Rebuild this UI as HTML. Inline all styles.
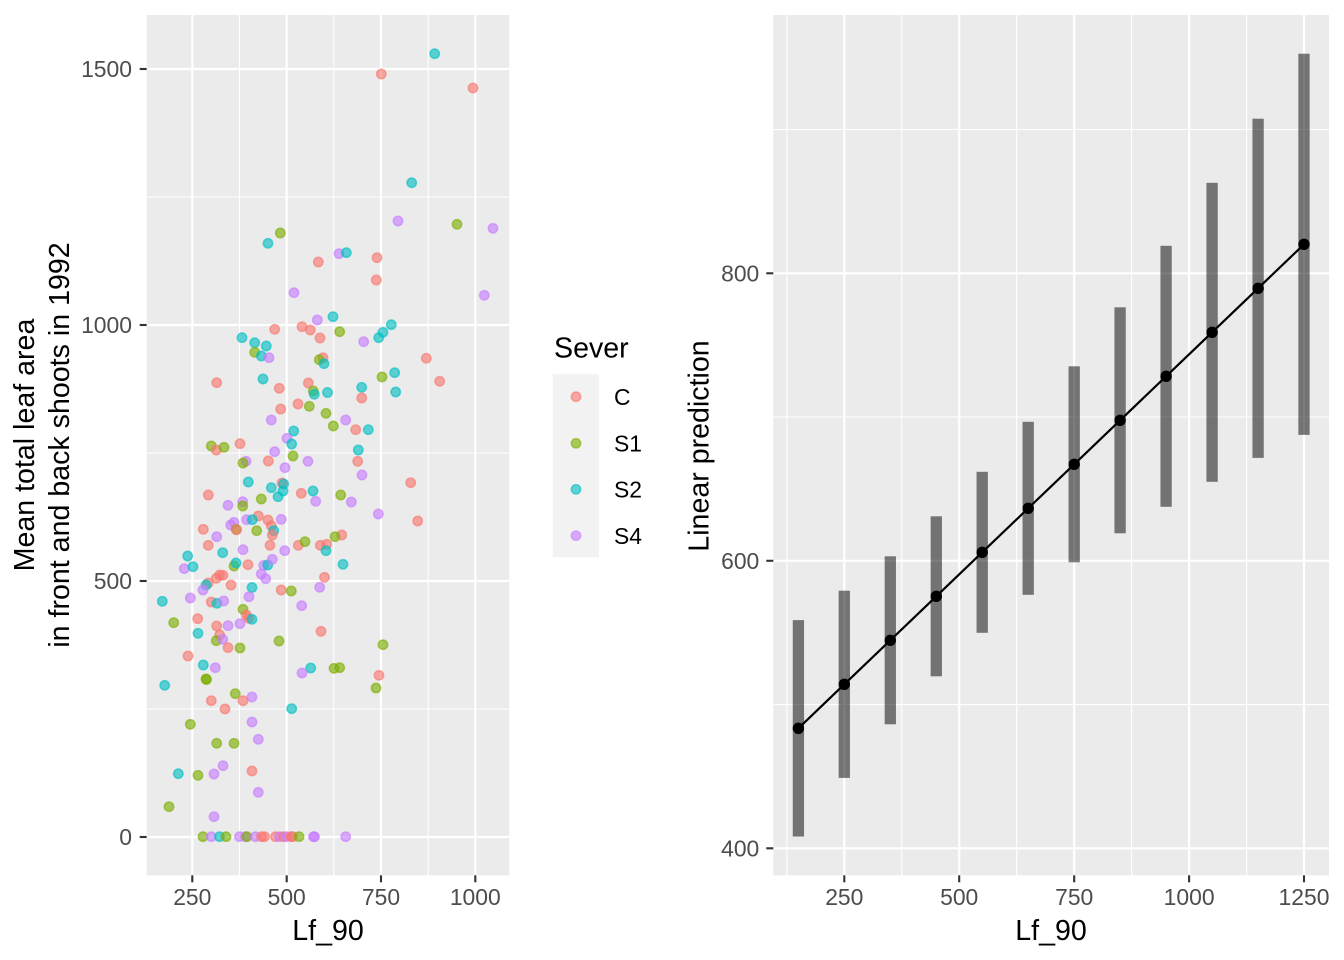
<!DOCTYPE html>
<html><head><meta charset="utf-8"><style>
html,body{margin:0;padding:0;background:#fff;}
svg{display:block;font-family:"Liberation Sans",Arial,sans-serif;}
.r{fill:#F8766D;stroke:#F8766D}
.g{fill:#7CAE00;stroke:#7CAE00}
.b{fill:#00BFC4;stroke:#00BFC4}
.p{fill:#C77CFF;stroke:#C77CFF}
.pt circle{fill-opacity:.62;stroke-opacity:.62;stroke-width:1.5;r:4.7px}
.tk{font-size:22.9px;fill:#4D4D4D}
.ti{font-size:28.6px;fill:#000}
</style></head><body>
<svg width="1344" height="960" viewBox="0 0 1344 960" xmlns="http://www.w3.org/2000/svg">
<rect width="1344" height="960" fill="#fff"/>
<!-- LEFT PANEL -->
<rect x="146.7" y="15" width="362.6" height="860.3" fill="#EBEBEB"/>
<g stroke="#fff" stroke-width="1.1">
<line x1="239.5" y1="15" x2="239.5" y2="875.3"/><line x1="333.8" y1="15" x2="333.8" y2="875.3"/><line x1="428.2" y1="15" x2="428.2" y2="875.3"/>
<line x1="146.7" y1="197" x2="509.3" y2="197"/><line x1="146.7" y1="453" x2="509.3" y2="453"/><line x1="146.7" y1="709" x2="509.3" y2="709"/>
</g>
<g stroke="#fff" stroke-width="2.2">
<line x1="192.3" y1="15" x2="192.3" y2="875.3"/><line x1="286.7" y1="15" x2="286.7" y2="875.3"/><line x1="381" y1="15" x2="381" y2="875.3"/><line x1="475.3" y1="15" x2="475.3" y2="875.3"/>
<line x1="146.7" y1="69" x2="509.3" y2="69"/><line x1="146.7" y1="325" x2="509.3" y2="325"/><line x1="146.7" y1="581" x2="509.3" y2="581"/><line x1="146.7" y1="837" x2="509.3" y2="837"/>
</g>
<g class="pt">
<circle class="b" cx="434.7" cy="53.7" r="4.7"/><circle class="r" cx="381.3" cy="74" r="4.7"/><circle class="r" cx="473" cy="88" r="4.7"/><circle class="b" cx="411.7" cy="182.7" r="4.7"/>
<circle class="p" cx="398" cy="221" r="4.7"/><circle class="g" cx="457" cy="224.3" r="4.7"/><circle class="p" cx="493" cy="228.3" r="4.7"/><circle class="g" cx="280.3" cy="233" r="4.7"/>
<circle class="b" cx="268" cy="243.3" r="4.7"/><circle class="p" cx="339" cy="253.7" r="4.7"/><circle class="b" cx="346.3" cy="252.7" r="4.7"/><circle class="r" cx="318.3" cy="262" r="4.7"/>
<circle class="r" cx="377" cy="257.7" r="4.7"/><circle class="r" cx="376.3" cy="280" r="4.7"/><circle class="p" cx="294" cy="292.7" r="4.7"/><circle class="p" cx="484.3" cy="295.3" r="4.7"/>
<circle class="p" cx="317.3" cy="320" r="4.7"/><circle class="b" cx="333" cy="316.7" r="4.7"/><circle class="r" cx="274.7" cy="329.3" r="4.7"/><circle class="r" cx="302" cy="326.7" r="4.7"/>
<circle class="r" cx="310.3" cy="330" r="4.7"/><circle class="r" cx="320" cy="338" r="4.7"/><circle class="b" cx="242" cy="337.7" r="4.7"/><circle class="b" cx="254.7" cy="342.7" r="4.7"/>
<circle class="b" cx="266.3" cy="346" r="4.7"/><circle class="g" cx="254.7" cy="352.3" r="4.7"/><circle class="b" cx="261.3" cy="356" r="4.7"/><circle class="p" cx="269" cy="357.7" r="4.7"/>
<circle class="r" cx="323" cy="357.7" r="4.7"/><circle class="g" cx="319.3" cy="359.7" r="4.7"/><circle class="b" cx="324" cy="363.7" r="4.7"/><circle class="r" cx="216.7" cy="382.7" r="4.7"/>
<circle class="b" cx="263" cy="379" r="4.7"/><circle class="r" cx="279.3" cy="388.3" r="4.7"/><circle class="r" cx="308.3" cy="383" r="4.7"/><circle class="g" cx="313.3" cy="391" r="4.7"/>
<circle class="b" cx="314.3" cy="394.3" r="4.7"/><circle class="b" cx="327.5" cy="392.5" r="4.7"/><circle class="r" cx="298" cy="404" r="4.7"/><circle class="g" cx="309.3" cy="406.3" r="4.7"/>
<circle class="g" cx="326" cy="413.3" r="4.7"/><circle class="r" cx="280.7" cy="409" r="4.7"/><circle class="p" cx="271.3" cy="420" r="4.7"/><circle class="g" cx="333.3" cy="426" r="4.7"/>
<circle class="b" cx="293.7" cy="431" r="4.7"/><circle class="p" cx="287" cy="438.3" r="4.7"/><circle class="b" cx="291.7" cy="444" r="4.7"/><circle class="g" cx="211.3" cy="446" r="4.7"/>
<circle class="r" cx="216.3" cy="450" r="4.7"/><circle class="g" cx="224" cy="447.3" r="4.7"/><circle class="r" cx="240" cy="443.7" r="4.7"/><circle class="p" cx="274.7" cy="451.7" r="4.7"/>
<circle class="g" cx="293" cy="456" r="4.7"/><circle class="p" cx="308" cy="461.3" r="4.7"/><circle class="p" cx="246" cy="461.3" r="4.7"/><circle class="g" cx="243" cy="463" r="4.7"/>
<circle class="r" cx="268.3" cy="461" r="4.7"/><circle class="p" cx="285" cy="467.7" r="4.7"/><circle class="b" cx="248.3" cy="482" r="4.7"/><circle class="r" cx="282" cy="483" r="4.7"/>
<circle class="b" cx="283.7" cy="484" r="4.7"/><circle class="b" cx="271.3" cy="487.7" r="4.7"/><circle class="b" cx="283" cy="491" r="4.7"/><circle class="b" cx="278" cy="496.7" r="4.7"/>
<circle class="r" cx="301.3" cy="493.3" r="4.7"/><circle class="b" cx="313" cy="491" r="4.7"/><circle class="p" cx="315.7" cy="501.3" r="4.7"/><circle class="r" cx="208.3" cy="495" r="4.7"/>
<circle class="p" cx="228" cy="505.3" r="4.7"/><circle class="p" cx="242.7" cy="501.7" r="4.7"/><circle class="g" cx="242.7" cy="506" r="4.7"/><circle class="g" cx="261.3" cy="499" r="4.7"/>
<circle class="r" cx="258.3" cy="516" r="4.7"/><circle class="p" cx="246.7" cy="519.7" r="4.7"/><circle class="b" cx="252.3" cy="519.7" r="4.7"/><circle class="r" cx="268" cy="520" r="4.7"/>
<circle class="r" cx="271.3" cy="525.7" r="4.7"/><circle class="p" cx="281.3" cy="519.3" r="4.7"/><circle class="p" cx="230.7" cy="525" r="4.7"/><circle class="p" cx="234" cy="522.3" r="4.7"/>
<circle class="g" cx="236.3" cy="529.3" r="4.7"/><circle class="r" cx="236.5" cy="529.8" r="4.7"/><circle class="g" cx="256.7" cy="530.7" r="4.7"/><circle class="b" cx="273.7" cy="530.7" r="4.7"/>
<circle class="r" cx="272.3" cy="535" r="4.7"/><circle class="r" cx="203.3" cy="529.3" r="4.7"/><circle class="p" cx="216.7" cy="536.7" r="4.7"/><circle class="r" cx="208.3" cy="545.3" r="4.7"/>
<circle class="b" cx="222.7" cy="552.7" r="4.7"/><circle class="p" cx="243" cy="549.7" r="4.7"/><circle class="r" cx="270" cy="545.3" r="4.7"/><circle class="p" cx="284.7" cy="550.7" r="4.7"/>
<circle class="r" cx="298.3" cy="545.3" r="4.7"/><circle class="g" cx="305" cy="541.7" r="4.7"/><circle class="r" cx="320.3" cy="545.3" r="4.7"/><circle class="r" cx="326.7" cy="544.3" r="4.7"/>
<circle class="r" cx="341.7" cy="535" r="4.7"/><circle class="g" cx="335" cy="536.7" r="4.7"/><circle class="b" cx="326" cy="550.7" r="4.7"/><circle class="b" cx="187.7" cy="556" r="4.7"/>
<circle class="p" cx="184.3" cy="568.7" r="4.7"/><circle class="b" cx="193" cy="566.7" r="4.7"/><circle class="g" cx="234" cy="566" r="4.7"/><circle class="b" cx="236" cy="563" r="4.7"/>
<circle class="r" cx="248" cy="564.7" r="4.7"/><circle class="p" cx="263.7" cy="565.3" r="4.7"/><circle class="b" cx="267.7" cy="565" r="4.7"/><circle class="p" cx="272.3" cy="559.3" r="4.7"/>
<circle class="p" cx="261.3" cy="574" r="4.7"/><circle class="p" cx="265.7" cy="578.7" r="4.7"/><circle class="r" cx="208.3" cy="583" r="4.7"/><circle class="r" cx="216.3" cy="578.3" r="4.7"/>
<circle class="r" cx="219.7" cy="575" r="4.7"/><circle class="r" cx="223" cy="575.3" r="4.7"/><circle class="b" cx="206" cy="585" r="4.7"/><circle class="p" cx="203" cy="590" r="4.7"/>
<circle class="r" cx="231" cy="585" r="4.7"/><circle class="b" cx="252" cy="587.5" r="4.7"/><circle class="r" cx="281.2" cy="590" r="4.7"/><circle class="g" cx="291.3" cy="591" r="4.7"/>
<circle class="p" cx="319.7" cy="587.3" r="4.7"/><circle class="r" cx="324.5" cy="577.3" r="4.7"/>
<circle class="p" cx="363.7" cy="341.7" r="4.7"/><circle class="g" cx="339.7" cy="331.7" r="4.7"/><circle class="b" cx="391.3" cy="324.7" r="4.7"/><circle class="b" cx="383" cy="332.3" r="4.7"/>
<circle class="b" cx="378.7" cy="337.7" r="4.7"/><circle class="r" cx="426.3" cy="358.3" r="4.7"/><circle class="r" cx="439.7" cy="381.3" r="4.7"/><circle class="b" cx="394.7" cy="372.7" r="4.7"/>
<circle class="g" cx="382" cy="377" r="4.7"/><circle class="b" cx="361.7" cy="387.3" r="4.7"/><circle class="b" cx="395.7" cy="392" r="4.7"/><circle class="r" cx="361.7" cy="398" r="4.7"/>
<circle class="p" cx="345.7" cy="420" r="4.7"/><circle class="r" cx="355.7" cy="429.7" r="4.7"/><circle class="b" cx="368.3" cy="429.7" r="4.7"/><circle class="b" cx="358.3" cy="450" r="4.7"/>
<circle class="r" cx="357.7" cy="461.3" r="4.7"/><circle class="p" cx="362" cy="475" r="4.7"/><circle class="r" cx="410.7" cy="482.7" r="4.7"/><circle class="g" cx="340.7" cy="495" r="4.7"/>
<circle class="p" cx="351.3" cy="502" r="4.7"/><circle class="p" cx="378.3" cy="514" r="4.7"/><circle class="r" cx="417.7" cy="521" r="4.7"/><circle class="b" cx="343" cy="564.3" r="4.7"/>
<circle class="b" cx="162.3" cy="601.3" r="4.7"/><circle class="p" cx="190.3" cy="598" r="4.7"/><circle class="r" cx="211.3" cy="602" r="4.7"/><circle class="b" cx="217" cy="603.3" r="4.7"/>
<circle class="p" cx="223.7" cy="601" r="4.7"/><circle class="p" cx="249" cy="596.7" r="4.7"/><circle class="p" cx="301.7" cy="605.7" r="4.7"/><circle class="g" cx="173.7" cy="622.7" r="4.7"/>
<circle class="r" cx="197.7" cy="618.7" r="4.7"/><circle class="b" cx="198" cy="633.3" r="4.7"/><circle class="r" cx="216.7" cy="626" r="4.7"/><circle class="p" cx="228" cy="625.7" r="4.7"/>
<circle class="p" cx="240" cy="623.7" r="4.7"/><circle class="g" cx="243" cy="609.3" r="4.7"/><circle class="r" cx="246.3" cy="615" r="4.7"/><circle class="r" cx="248.7" cy="618.3" r="4.7"/>
<circle class="b" cx="252" cy="619.3" r="4.7"/><circle class="r" cx="219.7" cy="635" r="4.7"/><circle class="g" cx="216.3" cy="640.7" r="4.7"/><circle class="p" cx="222.7" cy="639.3" r="4.7"/>
<circle class="r" cx="228" cy="647.7" r="4.7"/><circle class="g" cx="240" cy="648" r="4.7"/><circle class="g" cx="279" cy="641" r="4.7"/><circle class="r" cx="321" cy="631.3" r="4.7"/>
<circle class="r" cx="188" cy="656" r="4.7"/><circle class="b" cx="203.3" cy="665" r="4.7"/><circle class="p" cx="215.3" cy="667.7" r="4.7"/><circle class="g" cx="206" cy="679" r="4.7"/>
<circle class="g" cx="206.5" cy="679.5" r="4.7"/><circle class="b" cx="164.7" cy="685.3" r="4.7"/><circle class="b" cx="310.7" cy="668" r="4.7"/><circle class="p" cx="302" cy="673" r="4.7"/>
<circle class="g" cx="334" cy="668.3" r="4.7"/><circle class="g" cx="339.7" cy="667.7" r="4.7"/><circle class="g" cx="235.3" cy="693.7" r="4.7"/><circle class="p" cx="252" cy="697" r="4.7"/>
<circle class="r" cx="211.3" cy="700.7" r="4.7"/><circle class="r" cx="243" cy="700.7" r="4.7"/><circle class="r" cx="225" cy="709" r="4.7"/><circle class="b" cx="291.7" cy="708.7" r="4.7"/>
<circle class="g" cx="190.3" cy="724.3" r="4.7"/><circle class="p" cx="252" cy="722" r="4.7"/><circle class="p" cx="258.3" cy="739.3" r="4.7"/><circle class="g" cx="216.7" cy="743.3" r="4.7"/>
<circle class="g" cx="234" cy="743.3" r="4.7"/><circle class="b" cx="178.3" cy="773.7" r="4.7"/><circle class="g" cx="198" cy="775.3" r="4.7"/><circle class="p" cx="214" cy="774" r="4.7"/>
<circle class="p" cx="223" cy="765.7" r="4.7"/><circle class="r" cx="252" cy="771" r="4.7"/><circle class="p" cx="258.3" cy="792.3" r="4.7"/><circle class="g" cx="169" cy="806.7" r="4.7"/>
<circle class="p" cx="214" cy="816.7" r="4.7"/><circle class="g" cx="383" cy="644.7" r="4.7"/><circle class="r" cx="379" cy="675.3" r="4.7"/><circle class="g" cx="376" cy="688" r="4.7"/>
<circle class="g" cx="203" cy="836.7" r="4.7"/><circle class="p" cx="211.3" cy="836.7" r="4.7"/><circle class="b" cx="219.5" cy="836.7" r="4.7"/><circle class="g" cx="226" cy="836.7" r="4.7"/>
<circle class="p" cx="239.5" cy="836.7" r="4.7"/><circle class="p" cx="245.5" cy="836.7" r="4.7"/><circle class="g" cx="247" cy="836.7" r="4.7"/><circle class="p" cx="255.3" cy="836.7" r="4.7"/>
<circle class="r" cx="261.5" cy="836.7" r="4.7"/><circle class="r" cx="264.5" cy="836.7" r="4.7"/><circle class="r" cx="275.5" cy="836.7" r="4.7"/><circle class="p" cx="279.7" cy="836.7" r="4.7"/>
<circle class="r" cx="283.7" cy="836.7" r="4.7"/><circle class="p" cx="287" cy="836.7" r="4.7"/><circle class="r" cx="291.3" cy="836.7" r="4.7"/><circle class="r" cx="292.7" cy="836.7" r="4.7"/>
<circle class="g" cx="299" cy="836.7" r="4.7"/><circle class="p" cx="313.5" cy="836.7" r="4.7"/><circle class="p" cx="314.5" cy="836.7" r="4.7"/><circle class="p" cx="345.7" cy="836.7" r="4.7"/>
</g>
<!-- left axes -->
<g stroke="#333" stroke-width="2.1">
<line x1="139.7" y1="69" x2="146.7" y2="69"/><line x1="139.7" y1="325" x2="146.7" y2="325"/><line x1="139.7" y1="581" x2="146.7" y2="581"/><line x1="139.7" y1="837" x2="146.7" y2="837"/>
<line x1="192.3" y1="875.3" x2="192.3" y2="882.3"/><line x1="286.7" y1="875.3" x2="286.7" y2="882.3"/><line x1="381" y1="875.3" x2="381" y2="882.3"/><line x1="475.3" y1="875.3" x2="475.3" y2="882.3"/>
</g>
<g class="tk" text-anchor="end">
<text x="132" y="77.2">1500</text><text x="132" y="333.2">1000</text><text x="132" y="589.2">500</text><text x="132" y="845.2">0</text>
</g>
<g class="tk" text-anchor="middle">
<text x="192.3" y="905">250</text><text x="286.7" y="905">500</text><text x="381" y="905">750</text><text x="475.3" y="905">1000</text>
</g>
<text class="ti" x="328" y="940" text-anchor="middle">Lf_90</text>
<text class="ti" transform="translate(34,445) rotate(-90)" text-anchor="middle">Mean total leaf area</text>
<text class="ti" transform="translate(69,445) rotate(-90)" text-anchor="middle">in front and back shoots in 1992</text>
<!-- legend -->
<text class="ti" x="554" y="357.5">Sever</text>
<rect x="552.7" y="374.3" width="46.3" height="183" fill="#F2F2F2"/>
<g class="pt">
<circle class="r" cx="576" cy="396.7" r="4.7"/><circle class="g" cx="576" cy="443.3" r="4.7"/><circle class="b" cx="576" cy="489.3" r="4.7"/><circle class="p" cx="576" cy="535.7" r="4.7"/>
</g>
<g style="font-size:22.9px;fill:#000">
<text x="614" y="405">C</text><text x="614" y="451.5">S1</text><text x="614" y="497.5">S2</text><text x="614" y="544">S4</text>
</g>
<!-- RIGHT PANEL -->
<rect x="773.3" y="15" width="555.7" height="860.3" fill="#EBEBEB"/>
<g stroke="#fff" stroke-width="1.1">
<line x1="786.9" y1="15" x2="786.9" y2="875.3"/><line x1="901.8" y1="15" x2="901.8" y2="875.3"/><line x1="1016.7" y1="15" x2="1016.7" y2="875.3"/><line x1="1131.6" y1="15" x2="1131.6" y2="875.3"/><line x1="1246.6" y1="15" x2="1246.6" y2="875.3"/>
<line x1="773.3" y1="129.5" x2="1329" y2="129.5"/><line x1="773.3" y1="417" x2="1329" y2="417"/><line x1="773.3" y1="704.6" x2="1329" y2="704.6"/>
</g>
<g stroke="#fff" stroke-width="2.2">
<line x1="844.3" y1="15" x2="844.3" y2="875.3"/><line x1="959.2" y1="15" x2="959.2" y2="875.3"/><line x1="1074.2" y1="15" x2="1074.2" y2="875.3"/><line x1="1189.1" y1="15" x2="1189.1" y2="875.3"/><line x1="1304" y1="15" x2="1304" y2="875.3"/>
<line x1="773.3" y1="273.3" x2="1329" y2="273.3"/><line x1="773.3" y1="560.8" x2="1329" y2="560.8"/><line x1="773.3" y1="848.3" x2="1329" y2="848.3"/>
</g>
<g fill="#000" fill-opacity="0.51">
<rect x="792.75" y="620.1" width="11.3" height="216.4"/>
<rect x="838.65" y="590.7" width="11.3" height="187.2"/>
<rect x="884.65" y="556.3" width="11.3" height="168"/>
<rect x="930.65" y="516.3" width="11.3" height="160"/>
<rect x="976.55" y="471.8" width="11.3" height="161"/>
<rect x="1022.55" y="421.8" width="11.3" height="173"/>
<rect x="1068.55" y="366.3" width="11.3" height="196"/>
<rect x="1114.45" y="307.3" width="11.3" height="226"/>
<rect x="1160.45" y="245.8" width="11.3" height="261"/>
<rect x="1206.45" y="182.8" width="11.3" height="299"/>
<rect x="1252.45" y="118.7" width="11.3" height="339.2"/>
<rect x="1298.35" y="53.7" width="11.3" height="381.2"/>
</g>
<polyline fill="none" stroke="#000" stroke-width="2.2" points="798.4,728.3 844.3,684.3 890.3,640.3 936.3,596.3 982.2,552.3 1028.2,508.3 1074.2,464.3 1120.1,420.3 1166.1,376.3 1212.1,332.3 1258.1,288.3 1304,244.3"/>
<g fill="#000">
<circle cx="798.4" cy="728.3" r="5.7"/><circle cx="844.3" cy="684.3" r="5.7"/><circle cx="890.3" cy="640.3" r="5.7"/><circle cx="936.3" cy="596.3" r="5.7"/>
<circle cx="982.2" cy="552.3" r="5.7"/><circle cx="1028.2" cy="508.3" r="5.7"/><circle cx="1074.2" cy="464.3" r="5.7"/><circle cx="1120.1" cy="420.3" r="5.7"/>
<circle cx="1166.1" cy="376.3" r="5.7"/><circle cx="1212.1" cy="332.3" r="5.7"/><circle cx="1258.1" cy="288.3" r="5.7"/><circle cx="1304" cy="244.3" r="5.7"/>
</g>
<g stroke="#333" stroke-width="2.1">
<line x1="766.3" y1="273.3" x2="773.3" y2="273.3"/><line x1="766.3" y1="560.8" x2="773.3" y2="560.8"/><line x1="766.3" y1="848.3" x2="773.3" y2="848.3"/>
<line x1="844.3" y1="875.3" x2="844.3" y2="882.3"/><line x1="959.2" y1="875.3" x2="959.2" y2="882.3"/><line x1="1074.2" y1="875.3" x2="1074.2" y2="882.3"/><line x1="1189.1" y1="875.3" x2="1189.1" y2="882.3"/><line x1="1304" y1="875.3" x2="1304" y2="882.3"/>
</g>
<g class="tk" text-anchor="end">
<text x="759.3" y="281.5">800</text><text x="759.3" y="569">600</text><text x="759.3" y="856.5">400</text>
</g>
<g class="tk" text-anchor="middle">
<text x="844.3" y="905">250</text><text x="959.2" y="905">500</text><text x="1074.2" y="905">750</text><text x="1189.1" y="905">1000</text><text x="1304" y="905">1250</text>
</g>
<text class="ti" x="1051" y="940" text-anchor="middle">Lf_90</text>
<text class="ti" transform="translate(708.5,446) rotate(-90)" text-anchor="middle">Linear prediction</text>
</svg>
</body></html>
